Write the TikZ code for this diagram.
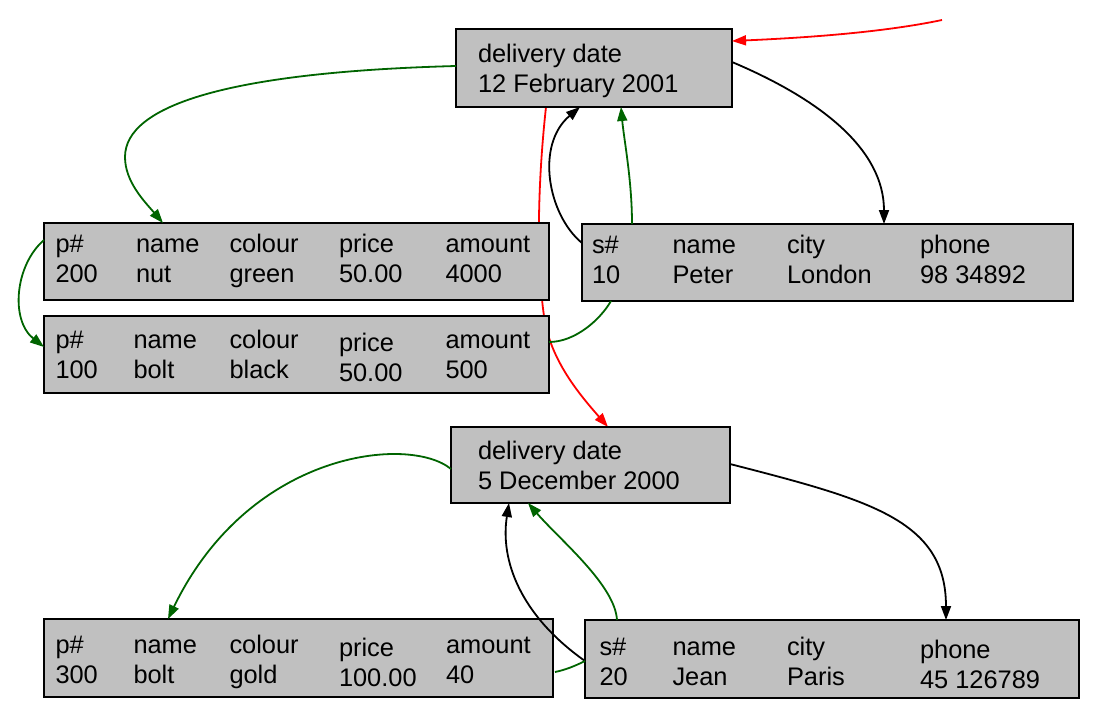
\documentclass[tikz,border=0pt]{standalone}
\usepackage{fontspec}
\setmainfont{Liberation Sans}
\usetikzlibrary{arrows.meta,calc}
\pgfdeclarelayer{bg}
\pgfsetlayers{bg,main}
\definecolor{boxgray}{HTML}{C0C0C0}
\definecolor{dgreen}{HTML}{006400}
\tikzset{
  box/.style={draw=black, fill=boxgray, line width=2pt, rectangle, inner sep=0pt, outer sep=0pt, anchor=north west},
  txt/.style={inner sep=0pt, outer sep=0pt, anchor=base west, font=\fontsize{25.4}{30}\selectfont},
  conn/.style={line width=1.8pt, -{Triangle[length=14pt,width=10pt]}},
  plainline/.style={line width=1.8pt},
}
\begin{document}
\begin{tikzpicture}[x=1pt,y=-1pt]
\useasboundingbox (0,0) rectangle (1096,718);
% boxes
\node[box, minimum width=276pt, minimum height=78pt] (d1) at (456,29) {};
\node[box, minimum width=505pt, minimum height=77pt] (p200) at (44,223) {};
\node[box, minimum width=505pt, minimum height=77pt] (p100) at (44,316) {};
\node[box, minimum width=491pt, minimum height=77pt] (s10) at (582,224) {};
\node[box, minimum width=279pt, minimum height=76pt] (d2) at (451,427) {};
\node[box, minimum width=509pt, minimum height=78pt] (p300) at (44,619) {};
\node[box, minimum width=494pt, minimum height=78pt] (s20) at (585,620) {};
% texts d1
\node[txt] (d1a) at (478,62) {delivery date};
\node[txt] (d1b) at (478,92) {12 February 2001};
% p200
\node[txt] (p200a) at (55.5,252) {p\#};
\node[txt] (p200b) at (136,252) {name};
\node[txt] (p200c) at (229.5,252) {colour};
\node[txt] (p200d) at (339,252) {price};
\node[txt] (p200e) at (445.5,252) {amount};
\node[txt] (p200f) at (55.5,282) {200};
\node[txt] (p200g) at (136,282) {nut};
\node[txt] (p200h) at (229.5,282) {green};
\node[txt] (p200i) at (339,282) {50.00};
\node[txt] (p200j) at (445.5,282) {4000};
% p100
\node[txt] (p100a) at (55.5,348.5) {p\#};
\node[txt] (p100b) at (133.5,348.5) {name};
\node[txt] (p100c) at (229.5,348.5) {colour};
\node[txt] (p100d) at (339,351.5) {price};
\node[txt] (p100e) at (445.5,348.5) {amount};
\node[txt] (p100f) at (55.5,378.5) {100};
\node[txt] (p100g) at (133.5,378.5) {bolt};
\node[txt] (p100h) at (229.5,378.5) {black};
\node[txt] (p100i) at (339,381) {50.00};
\node[txt] (p100j) at (445.5,378.5) {500};
% s10
\node[txt] (s10a) at (592,253) {s\#};
\node[txt] (s10b) at (672.5,253) {name};
\node[txt] (s10c) at (787,253) {city};
\node[txt] (s10d) at (920,253) {phone};
\node[txt] (s10e) at (592,283) {10};
\node[txt] (s10f) at (672.5,283) {Peter};
\node[txt] (s10g) at (787,283) {London};
\node[txt] (s10h) at (920,283) {98 34892};
% d2
\node[txt] (d2a) at (478,459.5) {delivery date};
\node[txt] (d2b) at (478,489.5) {5 December 2000};
% p300
\node[txt] (p300a) at (55.5,653) {p\#};
\node[txt] (p300b) at (133.5,653) {name};
\node[txt] (p300c) at (229.5,653) {colour};
\node[txt] (p300d) at (339,656) {price};
\node[txt] (p300e) at (446,653) {amount};
\node[txt] (p300f) at (55.5,683.5) {300};
\node[txt] (p300g) at (133.5,683.5) {bolt};
\node[txt] (p300h) at (229.5,683.5) {gold};
\node[txt] (p300i) at (339,686.5) {100.00};
\node[txt] (p300j) at (446,683.5) {40};
% s20
\node[txt] (s20a) at (599.5,655) {s\#};
\node[txt] (s20b) at (672.5,655) {name};
\node[txt] (s20c) at (787,655) {city};
\node[txt] (s20d) at (920,658.3) {phone};
\node[txt] (s20e) at (599.5,685) {20};
\node[txt] (s20f) at (672.5,685) {Jean};
\node[txt] (s20g) at (787,685) {Paris};
\node[txt] (s20h) at (920,688.3) {45 126789};
% free start of the incoming red connector
\coordinate (rs) at (942,20);
% connectors
\draw[conn, red] (rs) .. controls (880,33) and (800,38) .. ($(d1.north east)+(0,12)$);
\draw[conn] ($(d1.north east)+(0,33)$) .. controls (822,100) and (884,150) .. ($(s10.north west)+(302,0)$);
\draw[conn, dgreen] ($(d1.north west)+(0,37)$) .. controls (230,72) and (125,105) .. (125,157) .. controls (125,182) and (145,202) .. ($(p200.north west)+(119,0)$);
\begin{pgfonlayer}{bg}
\draw[conn, red] ($(d1.south west)+(90,0)$) .. controls (538,180) and (536,260) .. (544,316) .. controls (550,360) and (580,395) .. ($(d2.north west)+(157,0)$);
\end{pgfonlayer}
\draw[conn] ($(s10.north west)+(0,19)$) .. controls (548,215) and (535,145) .. ($(d1.south west)+(124,0)$);
\draw[conn, dgreen] ($(s10.north west)+(50,0)$) .. controls (632,180) and (624,140) .. ($(d1.south west)+(165,0)$);
\draw[plainline, dgreen] ($(s10.south west)+(29,0)$) .. controls (600,320) and (575,342) .. ($(p100.north east)+(0,26)$);
\draw[conn, dgreen] ($(p200.north west)+(0,17)$) .. controls (15,265) and (10,320) .. ($(p100.north west)+(0,31)$);
\draw[conn, dgreen] ($(d2.north west)+(0,42)$) .. controls (410,435) and (250,450) .. ($(p300.north west)+(124,0)$);
\draw[conn] ($(d2.north east)+(0,37)$) .. controls (870,500) and (946,520) .. ($(s20.north west)+(361,0)$);
\draw[conn] ($(s20.north west)+(0,41)$) .. controls (520,615) and (500,560) .. ($(d2.south west)+(58,0)$);
\draw[conn, dgreen] ($(s20.north west)+(32,0)$) .. controls (615,585) and (560,540) .. ($(d2.south west)+(77,0)$);
\draw[plainline, dgreen] ($(s20.north west)+(0,41)$) .. controls (575,666) and (565,670) .. ($(p300.north east)+(2,53)$);
\end{tikzpicture}
\end{document}
